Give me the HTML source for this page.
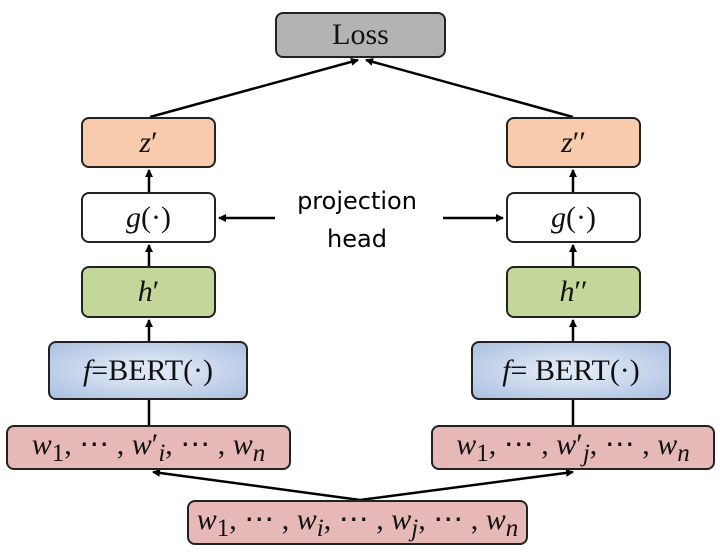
<!DOCTYPE html>
<html><head><style>
body{margin:0;background:#fff;width:723px;height:554px;position:relative;overflow:hidden}
.b{position:absolute;box-sizing:border-box;border:2px solid #222;border-radius:8px;display:flex;align-items:center;justify-content:center;font-family:"Liberation Serif",serif;font-size:30px;color:#111}
.i{font-style:italic}
.red{background:#e6b8b7}.or{background:#f8cbad}.gr{background:#c4d79b}
.bl{background:radial-gradient(ellipse at center,#dde6f4 20%,#aabfe0 100%)}
.t{position:absolute;font-family:"DejaVu Sans","Liberation Sans",sans-serif;font-size:24px;text-align:center;width:200px;left:257px;line-height:38px}
</style></head><body>
<svg width="723" height="554" style="position:absolute;left:0;top:0">
<defs><marker id="a" markerWidth="8" markerHeight="8" refX="7" refY="4" orient="auto" markerUnits="userSpaceOnUse"><path d="M0,0L8,4L0,8z" fill="#000"/></marker></defs>
<g stroke="#000" stroke-width="2.5" fill="none">
<line x1="150" y1="117" x2="358" y2="60" marker-end="url(#a)"/>
<line x1="573" y1="117" x2="366" y2="60" marker-end="url(#a)"/>
<line x1="149" y1="192" x2="149" y2="170" marker-end="url(#a)"/>
<line x1="573" y1="192" x2="573" y2="170" marker-end="url(#a)"/>
<line x1="149" y1="266" x2="149" y2="245" marker-end="url(#a)"/>
<line x1="573" y1="266" x2="573" y2="245" marker-end="url(#a)"/>
<line x1="149" y1="341" x2="149" y2="320" marker-end="url(#a)"/>
<line x1="573" y1="341" x2="573" y2="320" marker-end="url(#a)"/>
<line x1="149" y1="425" x2="149" y2="400"/>
<line x1="573" y1="425" x2="573" y2="400"/>
<line x1="360" y1="500" x2="153" y2="472" marker-end="url(#a)"/>
<line x1="360" y1="500" x2="573" y2="472" marker-end="url(#a)"/>
<line x1="275" y1="218" x2="219" y2="218" marker-end="url(#a)"/>
<line x1="443" y1="218" x2="503" y2="218" marker-end="url(#a)"/>
</g></svg>
<div class="b" style="left:275px;top:12px;width:171px;height:46px;background:#b3b3b3">Loss</div>
<div class="b or" style="left:81px;top:117px;width:135px;height:51px"><span class="i">z</span>′</div>
<div class="b or" style="left:506px;top:117px;width:135px;height:51px"><span class="i">z</span>′′</div>
<div class="b" style="left:81px;top:192px;width:135px;height:51px;background:#fff"><span class="i">g</span>(·)</div>
<div class="b" style="left:506px;top:192px;width:135px;height:51px;background:#fff"><span class="i">g</span>(·)</div>
<div class="b gr" style="left:81px;top:266px;width:135px;height:52px"><span class="i">h</span>′</div>
<div class="b gr" style="left:506px;top:266px;width:135px;height:52px"><span class="i">h</span>′′</div>
<div class="b bl" style="left:48px;top:341px;width:200px;height:59px"><span class="i">f</span>=BERT(·)</div>
<div class="b bl" style="left:471px;top:341px;width:200px;height:59px"><span class="i">f</span>= BERT(·)</div>
<div class="b red" style="left:6px;top:425px;width:285px;height:45px"><span><span class="i">w</span><sub>1</sub>, ⋯ , <span class="i">w</span>′<sub class="i">i</sub>, ⋯ , <span class="i">w<sub>n</sub></span></span></div>
<div class="b red" style="left:431px;top:425px;width:284px;height:45px"><span><span class="i">w</span><sub>1</sub>, ⋯ , <span class="i">w</span>′<sub class="i">j</sub>, ⋯ , <span class="i">w<sub>n</sub></span></span></div>
<div class="b red" style="left:187px;top:500px;width:341px;height:45px"><span><span class="i">w</span><sub>1</sub>, ⋯ , <span class="i">w<sub>i</sub></span>, ⋯ , <span class="i">w<sub>j</sub></span>, ⋯ , <span class="i">w<sub>n</sub></span></span></div>
<div class="t" style="top:182px">projection<br>head</div>
</body></html>
